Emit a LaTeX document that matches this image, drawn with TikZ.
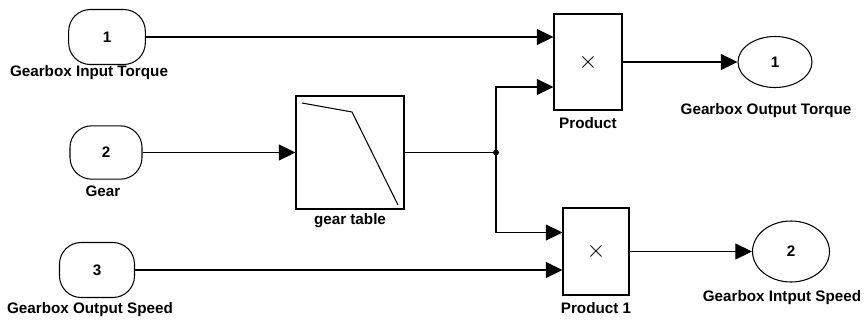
\documentclass[tikz,border=0pt]{standalone}
\usepackage{fontspec}
\setmainfont{Liberation Sans}
\usepackage{tikz}
\usetikzlibrary{arrows.meta, positioning, shapes.geometric, calc}

\begin{document}
\begin{tikzpicture}[x=0.03cm, y=-0.03cm, line width=0.9pt,
    font=\fontsize{13}{15}\selectfont\bfseries,
    inport/.style={draw, rounded corners=0.65cm, minimum width=2.3cm, minimum height=1.65cm},
    outport/.style={draw, ellipse, inner sep=0pt},
    block/.style={draw, rectangle, inner sep=0pt, font=\fontsize{20}{22}\selectfont},
    sig/.style={-{Triangle[length=0.5cm, width=0.48cm]}}]
      \useasboundingbox (0,0) rectangle (865,324);

      % inports
      \node[inport] (in1) at (107,37) {1};
      \node[inport, minimum width=2.16cm, minimum height=1.6cm] (in2) at (106,152.5) {2};
      \node[inport, minimum width=2.25cm] (in3) at (97,270) {3};
      \node (in1lbl) at (89,73) {Gearbox Input Torque};
      \node (in2lbl) at (103,191) {Gear};
      \node (in3lbl) at (90,310) {Gearbox Output Speed};

      % blocks
      \node[block, minimum width=3.24cm, minimum height=3.39cm] (tab) at (350,152.5) {};
      \node[block, minimum width=2.04cm, minimum height=2.88cm] (prod) at (588,62) {$\times$};
      \node[block, minimum width=1.98cm, minimum height=2.61cm] (prod1) at (596,251.5) {$\times$};
      \node (tablbl) at (350,221) {gear table};
      \node (prodlbl) at (588,123) {Product};
      \node (prod1lbl) at (596,308) {Product 1};
      \draw (302,103) -- (352,112) -- (398,205);

      % outports
      \node[outport, minimum width=2.22cm, minimum height=1.53cm] (out1) at (775,62) {1};
      \node[outport, minimum width=2.31cm, minimum height=1.83cm] (out2) at (791,251.5) {2};
      \node (out1lbl) at (766,111) {Gearbox Output Torque};
      \node (out2lbl) at (782,298) {Gearbox Intput Speed};

      % signals
      \coordinate (split) at (496,152.5);
      \coordinate (prodB) at ($(prod.west)+(0,25)$);
      \coordinate (prod1A) at ($(prod1.west)+(0,-19)$);
      \draw[sig] (in1) -- (prod.west |- in1);
      \draw[sig] (in2) -- (tab);
      \draw (tab.east) -- (split);
      \fill (split) circle[radius=0.09cm];
      \draw[sig] (split) |- (prodB);
      \draw[sig] (split) |- (prod1A);
      \draw[sig] (in3) -- (prod1.west |- in3);
      \draw[sig] (prod) -- (out1);
      \draw[sig] (prod1) -- (out2);
    \end{tikzpicture}
\end{document}
